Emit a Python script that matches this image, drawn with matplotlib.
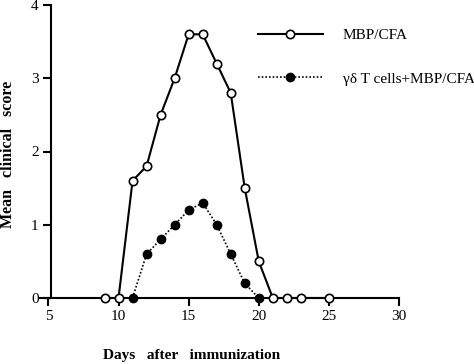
import matplotlib
matplotlib.use("Agg")
import matplotlib.pyplot as plt

days_mbp = [9, 10, 11, 12, 13, 14, 15, 16, 17, 18, 19, 20, 21, 22, 23, 25]
score_mbp = [0, 0, 1.6, 1.8, 2.5, 3.0, 3.6, 3.6, 3.2, 2.8, 1.5, 0.5, 0, 0, 0, 0]
days_gd = [11, 12, 13, 14, 15, 16, 17, 18, 19, 20]
score_gd = [0, 0.6, 0.8, 1.0, 1.2, 1.3, 1.0, 0.6, 0.2, 0]
xticks = [5, 10, 15, 20, 25, 30]
yticks = [0, 1, 2, 3, 4]
label_mbp = "MBP/CFA"
label_gd = "γδ T cells+MBP/CFA"

plt.rcParams['font.family'] = ['Liberation Serif', 'DejaVu Serif']

W, H = 474, 364
fig = plt.figure(figsize=(W / 100, H / 100), dpi=100)
ax = fig.add_axes([40 / W, (H - 298) / H, 359 / W, 293 / H])

ax.plot(days_mbp, score_mbp, '-o', color='black', lw=1.5, ms=6,
        mfc='white', mec='black', mew=1.2, clip_on=False, zorder=3, label=label_mbp)
ax.plot(days_gd, score_gd, marker='o', linestyle=(0, (1, 1.2)), color='black', lw=1.2, ms=6,
        mfc='black', mec='black', mew=1.0, clip_on=False, zorder=4, label=label_gd)

ax.set_xlim(4.4, 30)
ax.set_ylim(0, 4)
ax.spines['top'].set_visible(False)
ax.spines['right'].set_visible(False)
ax.spines['left'].set_position(('data', 5.2))
ax.spines['left'].set_linewidth(1.5)
ax.spines['bottom'].set_linewidth(1.5)
ax.set_xticks(xticks)
ax.set_yticks(yticks)
ax.tick_params(axis='x', direction='out', length=6, width=1.5, labelsize=11, pad=3)
ax.tick_params(axis='y', direction='out', length=6, width=1.5, labelsize=11, pad=3)

leg = ax.legend(loc='upper left', bbox_to_anchor=(0.607, 0.92), frameon=False,
                fontsize=11, handlelength=4.25, handletextpad=1.3, labelspacing=1.95,
                borderpad=0, borderaxespad=0, numpoints=1)

fig.text(8 / W, 1 - 154 / H, "Mean   clinical   score", rotation=90, ha='center',
         va='center', fontsize=11.5, fontweight='bold')
fig.text(192 / W, 1 - 356 / H, "Days   after   immunization", ha='center',
         va='center', fontsize=11, fontweight='bold')

fig.savefig("out.png", dpi=100)
